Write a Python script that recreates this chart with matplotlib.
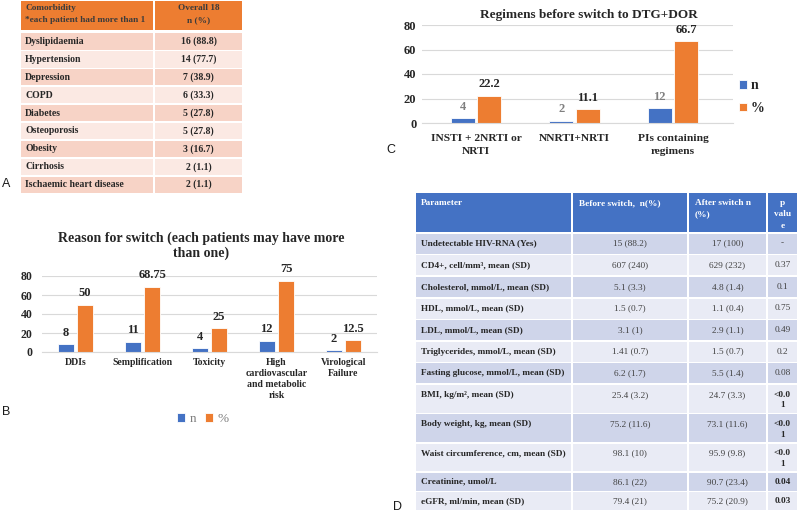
import matplotlib
matplotlib.use("Agg")
import matplotlib.pyplot as plt
from matplotlib.patches import Rectangle
import numpy as np

# ---------------- data ----------------
# Panel A
comorb_names = ["Dyslipidaemia", "Hypertension", "Depression", "COPD", "Diabetes",
                "Osteoporosis", "Obesity", "Cirrhosis", "Ischaemic heart disease"]
comorb_values = ["16 (88.8)", "14 (77.7)", "7 (38.9)", "6 (33.3)", "5 (27.8)",
                 "5 (27.8)", "3 (16.7)", "2 (1.1)", "2 (1.1)"]
comorb_header = ["Comorbidity\n*each patient had more than 1", "Overall 18\nn (%)"]

# Panel B
reason_cats = ["DDIs", "Semplification", "Toxicity",
               "High\ncardiovascular\nand metabolic\nrisk", "Virological\nFailure"]
reason_n = [8, 11, 4, 12, 2]
reason_pct = [50, 68.75, 25, 75, 12.5]

# Panel C
reg_cats = ["INSTI + 2NRTI or\nNRTI", "NNRTI+NRTI", "PIs containing\nregimens"]
reg_n = [4, 2, 12]
reg_pct = [22.2, 11.1, 66.7]

# Panel D
d_header = ["Parameter", "Before switch,  n(%)", "After switch n\n(%)", "p\nvalu\ne"]
d_params = ["Undetectable HIV-RNA (Yes)", "CD4+, cell/mm³, mean (SD)",
            "Cholesterol, mmol/L, mean (SD)", "HDL, mmol/L, mean (SD)",
            "LDL, mmol/L, mean (SD)", "Triglycerides, mmol/L, mean (SD)",
            "Fasting glucose, mmol/L, mean (SD)", "BMI, kg/m², mean (SD)",
            "Body weight, kg, mean (SD)", "Waist circumference, cm, mean (SD)",
            "Creatinine, umol/L", "eGFR, ml/min, mean (SD)"]
d_before = ["15 (88.2)", "607 (240)", "5.1 (3.3)", "1.5 (0.7)", "3.1 (1)", "1.41 (0.7)",
            "6.2 (1.7)", "25.4 (3.2)", "75.2 (11.6)", "98.1 (10)", "86.1 (22)", "79.4 (21)"]
d_after = ["17 (100)", "629 (232)", "4.8 (1.4)", "1.1 (0.4)", "2.9 (1.1)", "1.5 (0.7)",
           "5.5 (1.4)", "24.7 (3.3)", "73.1 (11.6)", "95.9 (9.8)", "90.7 (23.4)", "75.2 (20.9)"]
d_pval = ["-", "0.37", "0.1", "0.75", "0.49", "0.2", "0.08",
          "<0.0\n1", "<0.0\n1", "<0.0\n1", "0.04", "0.03"]
d_pbold = [False, False, False, False, False, False, False, True, True, True, True, True]

# ---------------- style ----------------
plt.rcParams["font.family"] = ["Liberation Serif", "DejaVu Serif"]
BLUE = "#4472C4"
ORANGE = "#ED7D31"
W, H = 800, 514
TFS = 6.7  # table font size

fig = plt.figure(figsize=(W / 100, H / 100), dpi=100)
fig.patch.set_facecolor("white")


def rect(x0, y0, x1, y1):
    return [x0 / W, 1 - y1 / H, (x1 - x0) / W, (y1 - y0) / H]


bg = fig.add_axes([0, 0, 1, 1])
bg.set_xlim(0, W)
bg.set_ylim(H, 0)
bg.axis("off")


def cell(x0, y0, x1, y1, color):
    bg.add_patch(Rectangle((x0 + 0.8, y0 + 0.8), x1 - x0 - 1.6, y1 - y0 - 1.6,
                           facecolor=color, edgecolor="none"))


# ---------------- Panel A table ----------------
colA = [20, 154, 243]
cell(colA[0], 0, colA[1], 31, ORANGE)
cell(colA[1], 0, colA[2], 31, ORANGE)
hA0 = comorb_header[0].split("\n")
hA1 = comorb_header[1].split("\n")
bg.text(25, 8, hA0[0], fontsize=TFS, fontweight="bold", color="#3b3b3b",
        va="center", ha="left")
bg.text(25, 19.5, hA0[1], fontsize=TFS, fontweight="bold", color="#3b3b3b",
        va="center", ha="left")
cA = (colA[1] + colA[2]) / 2
bg.text(cA, 8, hA1[0], fontsize=TFS, fontweight="bold", color="#3b3b3b",
        va="center", ha="center")
bg.text(cA, 20, hA1[1], fontsize=TFS, fontweight="bold", color="#3b3b3b",
        va="center", ha="center")
pitch = 17.9
for i, (nm, val) in enumerate(zip(comorb_names, comorb_values)):
    top = 32.5 + pitch * i
    col = "#F7D3C6" if i % 2 == 0 else "#FBE9E3"
    cell(colA[0], top, colA[1], top + pitch, col)
    cell(colA[1], top, colA[2], top + pitch, col)
    yc = top + pitch / 2
    bg.text(25, yc, nm, fontsize=7, fontweight="bold", color="#262626",
            va="center", ha="left")
    bg.text(cA, yc, val, fontsize=7, fontweight="bold", color="#262626",
            va="center", ha="center")

# ---------------- Panel D table ----------------
colD = [415, 572, 688, 767, 798]
hdr_top, hdr_bot = 192.5, 233
for j in range(4):
    cell(colD[j], hdr_top, colD[j + 1], hdr_bot, BLUE)
bg.text(421, 203, d_header[0], fontsize=TFS, fontweight="bold", color="white",
        va="center", ha="left")
bg.text(579, 203, d_header[1], fontsize=TFS, fontweight="bold", color="white",
        va="center", ha="left")
for k, ln in enumerate(d_header[2].split("\n")):
    bg.text(695, 203 + 11.5 * k, ln, fontsize=TFS, fontweight="bold", color="white",
            va="center", ha="left")
for k, ln in enumerate(d_header[3].split("\n")):
    bg.text((colD[3] + colD[4]) / 2, 203 + 11.5 * k, ln, fontsize=TFS,
            fontweight="bold", color="white", va="center", ha="center")

top = hdr_bot
for i in range(len(d_params)):
    if "\n" in d_pval[i]:
        h = 29.3
    elif i < 7:
        h = 21.6
    else:
        h = 19.5
    col = "#CFD5EA" if i % 2 == 0 else "#E9EBF5"
    for j in range(4):
        cell(colD[j], top, colD[j + 1], top + h, col)
    y1 = top + (10.5 if h > 20 else 9.8)
    bg.text(421, y1, d_params[i], fontsize=TFS, fontweight="bold", color="#262626",
            va="center", ha="left")
    bg.text((colD[1] + colD[2]) / 2, y1, d_before[i], fontsize=TFS, color="#404040",
            va="center", ha="center")
    bg.text((colD[2] + colD[3]) / 2, y1, d_after[i], fontsize=TFS, color="#404040",
            va="center", ha="center")
    for k, ln in enumerate(d_pval[i].split("\n")):
        bg.text((colD[3] + colD[4]) / 2, y1 + 10.5 * k, ln, fontsize=TFS,
                fontweight="bold" if d_pbold[i] else "normal",
                color="#262626" if d_pbold[i] else "#404040",
                va="center", ha="center")
    top += h

# ---------------- panel letters ----------------
for lab, x, y in [("A", 6, 184), ("B", 6, 412), ("C", 391, 150), ("D", 398, 507)]:
    bg.text(x, y, lab, fontsize=9, family="Liberation Sans", color="#1a1a1a",
            va="center", ha="center")


def style_axis(ax, tick_fs):
    ax.set_ylim(0, 80)
    ax.set_yticks(np.arange(0, 81, 20))
    ax.grid(axis="y", color="#D9D9D9", linewidth=0.8)
    ax.set_axisbelow(True)
    for s in ["top", "right", "left"]:
        ax.spines[s].set_visible(False)
    ax.spines["bottom"].set_color("#D9D9D9")
    ax.spines["bottom"].set_linewidth(0.8)
    ax.tick_params(length=0)
    for t in ax.get_yticklabels():
        t.set_fontweight("bold")
        t.set_fontsize(tick_fs)
        t.set_color("#262626")
    ax.patch.set_alpha(0)


# ---------------- Panel B ----------------
axB = fig.add_axes(rect(42, 276, 377, 352))
xb = np.arange(len(reason_cats))
bn = axB.bar(xb - 0.145, reason_n, width=0.24, color=BLUE, edgecolor="white",
             linewidth=0.6, label="n")
bp = axB.bar(xb + 0.145, reason_pct, width=0.24, color=ORANGE, edgecolor="white",
             linewidth=0.6, label="%")
axB.set_xlim(-0.5, len(reason_cats) - 0.5)
style_axis(axB, 8.5)
axB.tick_params(axis="y", pad=7)
axB.set_xticks(xb)
axB.set_xticklabels(reason_cats, fontsize=7, fontweight="bold", color="#262626",
                    linespacing=1.3)
axB.tick_params(axis="x", pad=4)
axB.bar_label(bn, labels=[f"{v:g}" for v in reason_n], padding=4, fontsize=9,
              fontweight="bold", color="#262626")
axB.bar_label(bp, labels=[f"{v:g}" for v in reason_pct], padding=4, fontsize=9,
              fontweight="bold", color="#262626")
fig.text(201 / W, 1 - 238 / H, "Reason for switch (each patients may have more",
         fontsize=10, fontweight="bold", color="#262626", ha="center", va="center")
fig.text(201 / W, 1 - 253 / H, "than one)", fontsize=10, fontweight="bold",
         color="#262626", ha="center", va="center")
legB = axB.legend(ncol=2, loc="center", bbox_to_anchor=(203 / W, 1 - 419 / H),
                  bbox_transform=fig.transFigure, frameon=False, handlelength=0.6,
                  handleheight=0.6, columnspacing=0.6, handletextpad=0.4,
                  prop={"size": 9.5})
for t in legB.get_texts():
    t.set_color("#7F7F7F")

# ---------------- Panel C ----------------
axC = fig.add_axes(rect(422, 25, 733, 123))
xc = np.arange(len(reg_cats))
cn = axC.bar(xc - 0.135, reg_n, width=0.245, color=BLUE, edgecolor="white",
             linewidth=0.6, label="n")
cp = axC.bar(xc + 0.135, reg_pct, width=0.245, color=ORANGE, edgecolor="white",
             linewidth=0.6, label="%")
axC.set_xlim(-0.55, 2.61)
style_axis(axC, 9)
axC.tick_params(axis="y", pad=4)
axC.set_xticks(xc)
axC.set_xticklabels(reg_cats, fontsize=8.2, fontweight="bold", color="#262626",
                    linespacing=1.55)
axC.tick_params(axis="x", pad=8)
axC.bar_label(cn, labels=[f"{v:g}" for v in reg_n], padding=4, fontsize=9,
              fontweight="bold", color="#7F7F7F")
axC.bar_label(cp, labels=[f"{v:g}" for v in reg_pct], padding=4, fontsize=9,
              fontweight="bold", color="#262626")
fig.text(589 / W, 1 - 15 / H, "Regimens before switch to DTG+DOR", fontsize=9.5,
         fontweight="bold", color="#262626", ha="center", va="center")
legC = axC.legend(ncol=1, loc="center left", bbox_to_anchor=(726 / W, 1 - 97 / H),
                  bbox_transform=fig.transFigure, frameon=False, handlelength=0.6,
                  handleheight=0.6, labelspacing=0.7, handletextpad=0.3,
                  prop={"size": 10, "weight": "bold"})
for t in legC.get_texts():
    t.set_color("#262626")

fig.savefig("out.png", dpi=100)
